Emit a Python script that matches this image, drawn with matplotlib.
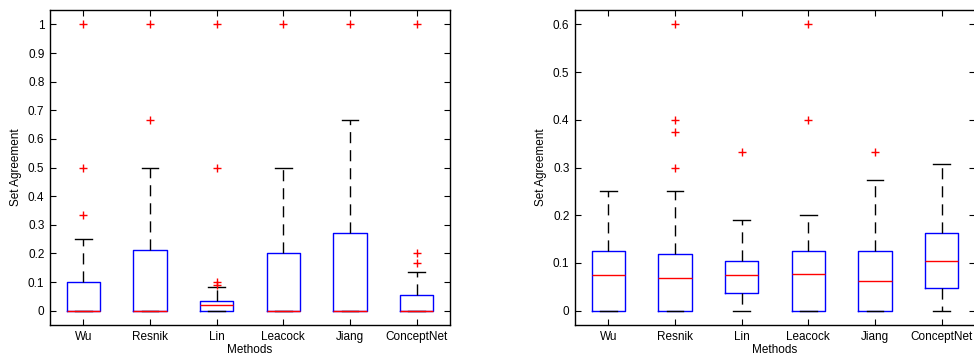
import matplotlib
matplotlib.use("Agg")
import matplotlib.pyplot as plt
from matplotlib.ticker import FuncFormatter

plt.rcParams['font.family'] = ['Liberation Sans', 'DejaVu Sans']

methods = ["Wu", "Resnik", "Lin", "Leacock", "Jiang", "ConceptNet"]

# set agreement, first experiment
left_med = [0, 0, 0.02, 0, 0, 0]
left_q1 = [0, 0, 0, 0, 0, 0]
left_q3 = [0.1, 0.213, 0.035, 0.2, 0.27, 0.056]
left_lo = [0, 0, 0, 0, 0, 0]
left_hi = [0.25, 0.5, 0.083, 0.5, 0.667, 0.136]
left_out = [[0.333, 0.5, 1.0], [0.667, 1.0], [0.091, 0.1, 0.5, 1.0],
            [1.0], [1.0], [0.167, 0.2, 1.0]]

# set agreement, second experiment
right_med = [0.074, 0.069, 0.074, 0.077, 0.063, 0.105]
right_q1 = [0, 0, 0.038, 0, 0, 0.048]
right_q3 = [0.125, 0.118, 0.105, 0.125, 0.125, 0.162]
right_lo = [0, 0, 0, 0, 0, 0]
right_hi = [0.25, 0.25, 0.19, 0.2, 0.273, 0.308]
right_out = [[], [0.3, 0.375, 0.4, 0.6], [0.333], [0.4, 0.6], [0.333], []]


def make_stats(med, q1, q3, lo, hi, out):
    stats = []
    for i in range(len(methods)):
        stats.append(dict(med=med[i], q1=q1[i], q3=q3[i], whislo=lo[i],
                          whishi=hi[i], fliers=out[i], label=methods[i]))
    return stats


def draw(ax, stats, ylim, yticks):
    ax.bxp(stats, positions=range(1, len(methods) + 1), widths=0.5,
           capwidths=0.25,
           boxprops=dict(color='blue', linewidth=1.0),
           medianprops=dict(color='red', linewidth=1.0, zorder=3),
           whiskerprops=dict(color='black', linewidth=1.0, linestyle=(0, (8, 5))),
           capprops=dict(color='black', linewidth=1.0),
           flierprops=dict(marker='+', markeredgecolor='red', markersize=6,
                           markeredgewidth=1.0, linestyle='none'))
    ax.set_xlim(0.5, len(methods) + 0.5)
    ax.set_ylim(*ylim)
    ax.set_yticks(yticks)
    ax.yaxis.set_major_formatter(FuncFormatter(lambda v, p: '%g' % round(v, 2)))
    ax.set_xticks(range(1, len(methods) + 1))
    ax.set_xticklabels(methods)
    ax.tick_params(direction='in', top=True, right=True, labelsize=8.5,
                   length=4, width=0.8, pad=4)
    ax.set_xlabel('Methods', fontsize=8.5, labelpad=1)
    ax.set_ylabel('Set Agreement', fontsize=8.5, labelpad=4)
    for s in ax.spines.values():
        s.set_linewidth(1.0)


fig = plt.figure(figsize=(9.74, 3.55), dpi=100)
ax1 = fig.add_axes([0.0513, 0.0845, 0.4107, 0.887])
ax2 = fig.add_axes([0.5903, 0.0845, 0.4107, 0.887])

draw(ax1, make_stats(left_med, left_q1, left_q3, left_lo, left_hi, left_out),
     (-0.05, 1.05), [i / 10 for i in range(11)])
draw(ax2, make_stats(right_med, right_q1, right_q3, right_lo, right_hi, right_out),
     (-0.03, 0.63), [i / 10 for i in range(7)])

fig.savefig('out.png', dpi=100)
